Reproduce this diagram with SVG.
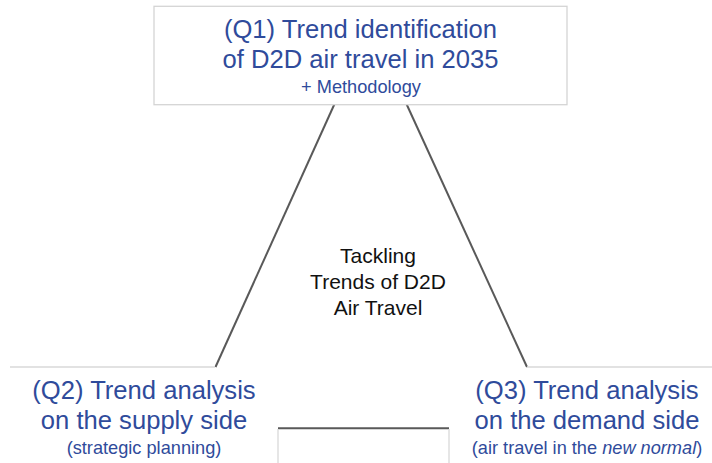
<svg xmlns="http://www.w3.org/2000/svg" width="712" height="463" viewBox="0 0 712 463">
<style>
text{font-family:"Liberation Sans",Arial,sans-serif;text-anchor:middle}
.t{fill:#2F4B9B;font-size:25.6px}
.s{fill:#2F4B9B;font-size:18.2px}
.c{fill:#111;font-size:21px}
.box{fill:#fff;stroke:#d4d4d4;stroke-width:1.3}
.edge{stroke:#d9d9d9;stroke-width:1.3;fill:none}
.conn{stroke:#595959;stroke-width:2;fill:none}
</style>
<rect width="712" height="463" fill="#fff"/>
<g id="connectors">
<line class="conn" x1="334.5" y1="104" x2="215.5" y2="367"/>
<line class="conn" x1="406.5" y1="104" x2="527" y2="367"/>
<line class="conn" x1="278" y1="428.3" x2="449" y2="428.3"/>
</g>
<g id="q1">
<rect class="box" x="154" y="6.3" width="413" height="98.4"/>
<text class="t" x="360.5" y="37.5">(Q1) Trend identification</text>
<text class="t" x="360.5" y="67.5">of D2D air travel in 2035</text>
<text class="s" x="361" y="92.5">+ Methodology</text>
</g>
<g id="center">
<text class="c" x="378" y="263">Tackling</text>
<text class="c" x="378" y="289">Trends of D2D</text>
<text class="c" x="378" y="315">Air Travel</text>
</g>
<g id="q2">
<line class="edge" x1="10" y1="367" x2="215" y2="367"/>
<text class="t" x="144" y="398.5">(Q2) Trend analysis</text>
<text class="t" x="144" y="429">on the supply side</text>
<text class="s" x="144" y="453.5">(strategic planning)</text>
</g>
<g id="q3">
<line class="edge" x1="527" y1="367" x2="712" y2="367"/>
<text class="t" x="587" y="398.5">(Q3) Trend analysis</text>
<text class="t" x="587" y="429">on the demand side</text>
<text class="s" x="587" y="453.5">(air travel in the <tspan font-style="italic">new normal</tspan>)</text>
</g>
<g id="bottom-box">
<path class="edge" d="M278 429V463M449 429V463"/>
</g>
</svg>
